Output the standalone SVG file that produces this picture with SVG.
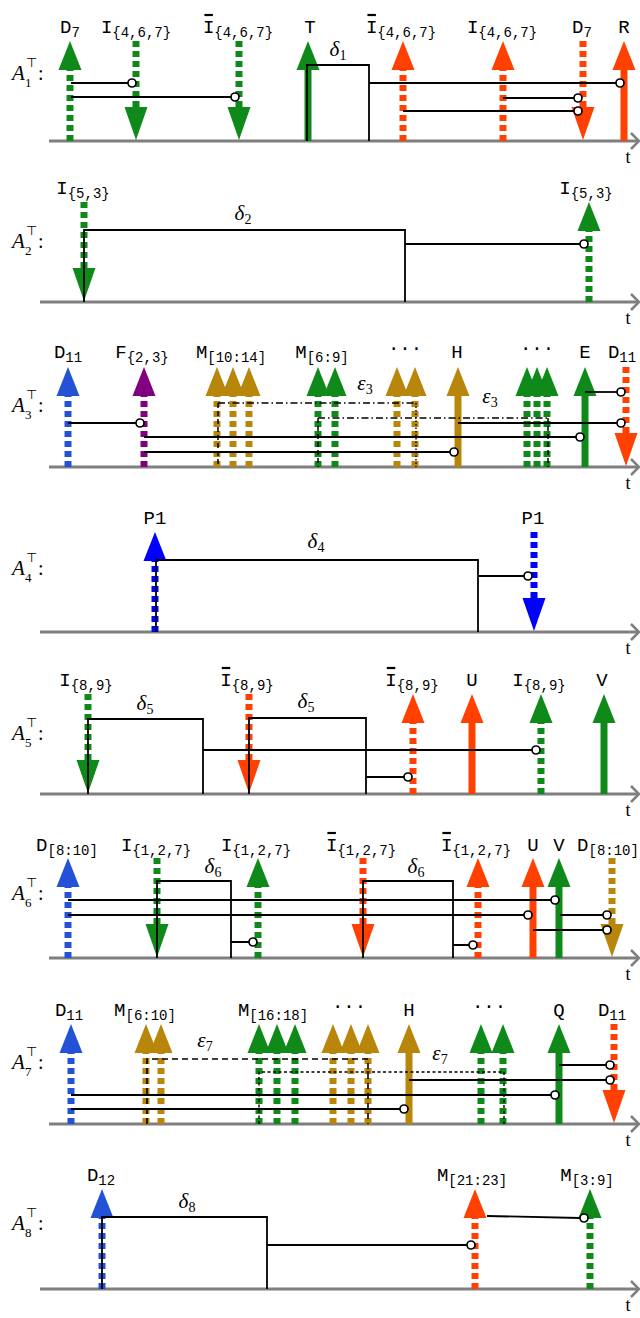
<svg xmlns="http://www.w3.org/2000/svg" width="640" height="1318" viewBox="0 0 640 1318">
<style>
.ax{stroke:#7f7f7f;stroke-width:3;fill:none}
.ah{stroke:#7f7f7f;stroke-width:2.5;fill:none}
.c{stroke:#000;stroke-width:1.8;fill:none}
.o{fill:#fff;stroke:#000;stroke-width:1.7}
.dd{stroke:#000;stroke-width:1.4;fill:none;stroke-dasharray:7 3 1.5 3}
.ds{stroke:#000;stroke-width:1.5;fill:none;stroke-dasharray:5 3}
.dt{stroke:#000;stroke-width:1.4;fill:none;stroke-dasharray:1.5 2}
.d7{stroke:#000;stroke-width:1.6;fill:none;stroke-dasharray:6 4}
.d7b{stroke:#000;stroke-width:1.4;fill:none;stroke-dasharray:3 2.5}
.lb{font-family:"Liberation Mono","DejaVu Sans Mono",monospace;font-size:19px;text-anchor:middle;fill:#000}
.sb{font-size:14px}
.gk{font-family:"Liberation Serif","DejaVu Serif",serif;font-style:italic;font-size:21px;text-anchor:middle}
.gs{font-style:normal;font-size:14px}
.ai{font-family:"Liberation Serif",serif;font-style:italic;font-size:21px}
.an{font-family:"Liberation Serif","DejaVu Sans",serif;font-size:13px}
.ac{font-family:"Liberation Serif",serif;font-size:20px}
.t{font-family:"Liberation Serif",serif;font-size:18px;text-anchor:middle}
.ob{stroke:#000;stroke-width:2.2}
.g{color:#0f8a1a}.r{color:#ff4000}.b{color:#2352d6}.B{color:#0000ff}.p{color:#800080}.y{color:#b8860b}
</style>
<defs>
<g id="uD"><path d="M0 0V-71" stroke="currentColor" stroke-width="7" stroke-dasharray="6 4"/><path d="M0 -100L11.5 -71H-11.5Z" fill="currentColor"/></g>
<g id="uS"><path d="M0 0V-72" stroke="currentColor" stroke-width="7"/><path d="M0 -100L11.5 -71H-11.5Z" fill="currentColor"/></g>
<g id="dD"><path d="M0 -100V-34" stroke="currentColor" stroke-width="7" stroke-dasharray="6 4"/><path d="M0 -1L11.5 -34H-11.5Z" fill="currentColor"/></g>
</defs>
<rect width="640" height="1318" fill="#fff"/>

<!-- Panel 1 -->
<g id="panel1">
<path class="ax" d="M49 141H638"/><path class="ah" d="M631 133L639 141L631 149"/>
<text class="t" x="628" y="163">t</text>
<g id="A1"><text class="ai" x="12" y="80">A</text><text class="an" x="25" y="87">1</text><text class="an" x="26" y="67">⊤</text><text class="ac" x="38" y="80">:</text></g>
<g id="p1-D7a"><use href="#uD" x="70" y="141" class="g"/><text class="lb" x="70" y="33">D<tspan class="sb" dy="4">7</tspan></text></g>
<g id="p1-I1"><use href="#dD" x="136" y="141" class="g"/><text class="lb" x="136" y="33">I<tspan class="sb" dy="4">{4,6,7}</tspan></text></g>
<g id="p1-Ib1"><use href="#dD" x="239" y="141" class="g"/><text class="lb" x="238" y="33">I<tspan class="sb" dy="4">{4,6,7}</tspan></text><path class="ob" d="M204.4 15H212.9"/></g>
<g id="p1-T"><use href="#uS" x="308" y="141" class="g"/><text class="lb" x="310" y="33">T</text></g>
<g id="p1-Ib2"><use href="#uD" x="403" y="141" class="r"/><text class="lb" x="401" y="33">I<tspan class="sb" dy="4">{4,6,7}</tspan></text><path class="ob" d="M367.4 15H375.9"/></g>
<g id="p1-I2"><use href="#uD" x="503" y="141" class="r"/><text class="lb" x="502" y="33">I<tspan class="sb" dy="4">{4,6,7}</tspan></text></g>
<g id="p1-D7b"><use href="#dD" x="583" y="141" class="r"/><text class="lb" x="582" y="33">D<tspan class="sb" dy="4">7</tspan></text></g>
<g id="p1-R"><use href="#uS" x="624" y="141" class="r"/><text class="lb" x="624" y="33">R</text></g>
<g id="p1-connectors">
<path class="c" d="M71 83H128"/><circle class="o" cx="132" cy="83" r="4"/>
<path class="c" d="M71 97H231"/><circle class="o" cx="235" cy="97" r="4"/>
<path class="c" d="M307 141V65H369V141M369 83H616"/><circle class="o" cx="620" cy="83" r="4"/>
<path class="c" d="M503 98H574"/><circle class="o" cx="578" cy="98" r="4"/>
<path class="c" d="M403 111H574"/><circle class="o" cx="578" cy="111" r="4"/>
<text class="gk" x="338" y="56">δ<tspan class="gs" dy="4">1</tspan></text>
</g>
</g>

<!-- Panel 2 -->
<g id="panel2">
<path class="ax" d="M40 302H638"/><path class="ah" d="M631 294L639 302L631 310"/>
<text class="t" x="628" y="324">t</text>
<g id="A2"><text class="ai" x="12" y="248">A</text><text class="an" x="25" y="255">2</text><text class="an" x="26" y="235">⊤</text><text class="ac" x="38" y="248">:</text></g>
<g id="p2-I1"><use href="#dD" x="84" y="302" class="g"/><text class="lb" x="83" y="194">I<tspan class="sb" dy="4">{5,3}</tspan></text></g>
<g id="p2-I2"><use href="#uD" x="589" y="302" class="g"/><text class="lb" x="586" y="194">I<tspan class="sb" dy="4">{5,3}</tspan></text></g>
<g id="p2-connectors">
<path class="c" d="M84 302V230H405V302M405 244H580"/><circle class="o" cx="584" cy="244" r="4"/>
<text class="gk" x="243" y="220">δ<tspan class="gs" dy="4">2</tspan></text>
</g>
</g>

<!-- Panel 3 -->
<g id="panel3">
<path class="ax" d="M49 467H638"/><path class="ah" d="M631 459L639 467L631 475"/>
<text class="t" x="628" y="489">t</text>
<g id="A3"><text class="ai" x="12" y="412">A</text><text class="an" x="25" y="419">3</text><text class="an" x="26" y="399">⊤</text><text class="ac" x="38" y="412">:</text></g>
<g id="p3-D11a"><use href="#uD" x="68" y="467" class="b"/><text class="lb" x="68" y="358">D<tspan class="sb" dy="4">11</tspan></text></g>
<g id="p3-F"><use href="#uD" x="144" y="467" class="p"/><text class="lb" x="142" y="358">F<tspan class="sb" dy="4">{2,3}</tspan></text></g>
<g id="p3-M1014"><use href="#uD" x="217" y="467" class="y"/><use href="#uD" x="233" y="467" class="y"/><use href="#uD" x="249" y="467" class="y"/><text class="lb" x="231" y="358">M<tspan class="sb" dy="4">[10:14]</tspan></text></g>
<g id="p3-M69"><use href="#uD" x="318" y="467" class="g"/><use href="#uD" x="335" y="467" class="g"/><text class="lb" x="322" y="358">M<tspan class="sb" dy="4">[6:9]</tspan></text></g>
<g id="p3-dots1"><use href="#uD" x="397" y="467" class="y"/><use href="#uD" x="415" y="467" class="y"/><text class="lb" x="405" y="354">···</text></g>
<g id="p3-H"><use href="#uS" x="458" y="467" class="y"/><text class="lb" x="457" y="358">H</text></g>
<g id="p3-dots2"><use href="#uD" x="527" y="467" class="g"/><use href="#uD" x="537" y="467" class="g"/><use href="#uD" x="547" y="467" class="g"/><text class="lb" x="537" y="354">···</text></g>
<g id="p3-E"><use href="#uS" x="585" y="467" class="g"/><text class="lb" x="585" y="358">E</text></g>
<g id="p3-D11b"><use href="#dD" x="626" y="467" class="r"/><text class="lb" x="622" y="358">D<tspan class="sb" dy="4">11</tspan></text></g>
<g id="p3-connectors">
<path class="dd" d="M218 403H416"/><path class="ds" d="M218 403V467"/><path class="dt" d="M416 403V467"/>
<path class="dd" d="M318 418H548"/><path class="ds" d="M318 418V467"/><path class="ds" d="M548 418V467"/>
<path class="c" d="M68 423H136"/><circle class="o" cx="140" cy="423" r="4"/>
<path class="c" d="M144 437H576"/><circle class="o" cx="580" cy="437" r="4"/>
<path class="c" d="M144 452H450"/><circle class="o" cx="454" cy="452" r="4"/>
<path class="c" d="M585 392H617"/><circle class="o" cx="621" cy="392" r="4"/>
<path class="c" d="M458 423H617"/><circle class="o" cx="621" cy="423" r="4"/>
<text class="gk" x="365" y="390">ε<tspan class="gs" dy="4">3</tspan></text>
<text class="gk" x="490" y="403">ε<tspan class="gs" dy="4">3</tspan></text>
</g>
</g>

<!-- Panel 4 -->
<g id="panel4">
<path class="ax" d="M40 632H638"/><path class="ah" d="M631 624L639 632L631 640"/>
<text class="t" x="628" y="654">t</text>
<g id="A4"><text class="ai" x="12" y="575">A</text><text class="an" x="25" y="582">4</text><text class="an" x="26" y="562">⊤</text><text class="ac" x="38" y="575">:</text></g>
<g id="p4-P1a"><use href="#uD" x="155" y="632" class="B"/><text class="lb" x="155" y="524">P1</text></g>
<g id="p4-P1b"><use href="#dD" x="534" y="632" class="B"/><text class="lb" x="533" y="524">P1</text></g>
<g id="p4-connectors">
<path class="c" d="M156 632V560H478V632M478 576H524"/><circle class="o" cx="528" cy="576" r="4"/>
<text class="gk" x="316" y="548">δ<tspan class="gs" dy="4">4</tspan></text>
</g>
</g>

<!-- Panel 5 -->
<g id="panel5">
<path class="ax" d="M40 794H638"/><path class="ah" d="M631 786L639 794L631 802"/>
<text class="t" x="628" y="816">t</text>
<g id="A5"><text class="ai" x="12" y="740">A</text><text class="an" x="25" y="747">5</text><text class="an" x="26" y="727">⊤</text><text class="ac" x="38" y="740">:</text></g>
<g id="p5-I1"><use href="#dD" x="88" y="794" class="g"/><text class="lb" x="86" y="686">I<tspan class="sb" dy="4">{8,9}</tspan></text></g>
<g id="p5-Ib1"><use href="#dD" x="249" y="794" class="r"/><text class="lb" x="247" y="686">I<tspan class="sb" dy="4">{8,9}</tspan></text><path class="ob" d="M221.8 668H230.3"/></g>
<g id="p5-Ib2"><use href="#uD" x="413" y="794" class="r"/><text class="lb" x="412" y="686">I<tspan class="sb" dy="4">{8,9}</tspan></text><path class="ob" d="M386.8 668H395.3"/></g>
<g id="p5-U"><use href="#uS" x="472" y="794" class="r"/><text class="lb" x="472" y="686">U</text></g>
<g id="p5-I2"><use href="#uD" x="541" y="794" class="g"/><text class="lb" x="539" y="686">I<tspan class="sb" dy="4">{8,9}</tspan></text></g>
<g id="p5-V"><use href="#uS" x="604" y="794" class="g"/><text class="lb" x="602" y="686">V</text></g>
<g id="p5-connectors">
<path class="c" d="M88 794V719H203V794M203 750H532"/><circle class="o" cx="536" cy="750" r="4"/>
<path class="c" d="M249 794V718H366V794M366 777H404"/><circle class="o" cx="408" cy="777" r="4"/>
<text class="gk" x="145" y="710">δ<tspan class="gs" dy="4">5</tspan></text>
<text class="gk" x="306" y="708">δ<tspan class="gs" dy="4">5</tspan></text>
</g>
</g>

<!-- Panel 6 -->
<g id="panel6">
<path class="ax" d="M49 958H638"/><path class="ah" d="M631 950L639 958L631 966"/>
<text class="t" x="628" y="980">t</text>
<g id="A6"><text class="ai" x="12" y="900">A</text><text class="an" x="25" y="907">6</text><text class="an" x="26" y="887">⊤</text><text class="ac" x="38" y="900">:</text></g>
<g id="p6-D1"><use href="#uD" x="68" y="958" class="b"/><text class="lb" x="67" y="851">D<tspan class="sb" dy="4">[8:10]</tspan></text></g>
<g id="p6-I1"><use href="#dD" x="157" y="958" class="g"/><text class="lb" x="156" y="851">I<tspan class="sb" dy="4">{1,2,7}</tspan></text></g>
<g id="p6-I2"><use href="#uD" x="258" y="958" class="g"/><text class="lb" x="256" y="851">I<tspan class="sb" dy="4">{1,2,7}</tspan></text></g>
<g id="p6-Ib1"><use href="#dD" x="363" y="958" class="r"/><text class="lb" x="361" y="851">I<tspan class="sb" dy="4">{1,2,7}</tspan></text><path class="ob" d="M327.4 833H335.9"/></g>
<g id="p6-Ib2"><use href="#uD" x="478" y="958" class="r"/><text class="lb" x="476" y="851">I<tspan class="sb" dy="4">{1,2,7}</tspan></text><path class="ob" d="M442.4 833H450.9"/></g>
<g id="p6-U"><use href="#uS" x="533" y="958" class="r"/><text class="lb" x="533" y="851">U</text></g>
<g id="p6-V"><use href="#uS" x="559" y="958" class="g"/><text class="lb" x="559" y="851">V</text></g>
<g id="p6-D2"><use href="#dD" x="612" y="958" class="y"/><text class="lb" x="608" y="851">D<tspan class="sb" dy="4">[8:10]</tspan></text></g>
<g id="p6-connectors">
<path class="c" d="M157 958V881H231V958M231 942H249"/><circle class="o" cx="253" cy="942" r="4"/>
<path class="c" d="M363 958V881H453V958M453 945H469"/><circle class="o" cx="473" cy="945" r="4"/>
<path class="c" d="M68 900H551"/><circle class="o" cx="555" cy="900" r="4"/>
<path class="c" d="M68 915H524"/><circle class="o" cx="528" cy="915" r="4"/>
<path class="c" d="M560 915H603"/><circle class="o" cx="607" cy="915" r="4"/>
<path class="c" d="M533 930H603"/><circle class="o" cx="607" cy="930" r="4"/>
<text class="gk" x="213" y="873">δ<tspan class="gs" dy="4">6</tspan></text>
<text class="gk" x="416" y="873">δ<tspan class="gs" dy="4">6</tspan></text>
</g>
</g>

<!-- Panel 7 -->
<g id="panel7">
<path class="ax" d="M49 1124H638"/><path class="ah" d="M631 1116L639 1124L631 1132"/>
<text class="t" x="628" y="1146">t</text>
<g id="A7"><text class="ai" x="12" y="1069">A</text><text class="an" x="25" y="1076">7</text><text class="an" x="26" y="1056">⊤</text><text class="ac" x="38" y="1069">:</text></g>
<g id="p7-D11a"><use href="#uD" x="71" y="1124" class="b"/><text class="lb" x="69" y="1016">D<tspan class="sb" dy="4">11</tspan></text></g>
<g id="p7-M610"><use href="#uD" x="146" y="1124" class="y"/><use href="#uD" x="161" y="1124" class="y"/><text class="lb" x="145" y="1016">M<tspan class="sb" dy="4">[6:10]</tspan></text></g>
<g id="p7-M1618"><use href="#uD" x="259" y="1124" class="g"/><use href="#uD" x="277" y="1124" class="g"/><use href="#uD" x="295" y="1124" class="g"/><text class="lb" x="273" y="1016">M<tspan class="sb" dy="4">[16:18]</tspan></text></g>
<g id="p7-dots1"><use href="#uD" x="333" y="1124" class="y"/><use href="#uD" x="351" y="1124" class="y"/><use href="#uD" x="368" y="1124" class="y"/><text class="lb" x="349" y="1012">···</text></g>
<g id="p7-H"><use href="#uS" x="409" y="1124" class="y"/><text class="lb" x="409" y="1016">H</text></g>
<g id="p7-dots2"><use href="#uD" x="481" y="1124" class="g"/><use href="#uD" x="503" y="1124" class="g"/><text class="lb" x="489" y="1012">···</text></g>
<g id="p7-Q"><use href="#uS" x="559" y="1124" class="g"/><text class="lb" x="559" y="1016">Q</text></g>
<g id="p7-D11b"><use href="#dD" x="614" y="1124" class="r"/><text class="lb" x="612" y="1016">D<tspan class="sb" dy="4">11</tspan></text></g>
<g id="p7-connectors">
<path class="d7" d="M147 1124V1059H368V1124"/>
<path class="d7b" d="M259 1124V1072H504V1124"/>
<path class="c" d="M559 1065H606"/><circle class="o" cx="610" cy="1065" r="4"/>
<path class="c" d="M409 1080H606"/><circle class="o" cx="610" cy="1080" r="4"/>
<path class="c" d="M71 1095H551"/><circle class="o" cx="555" cy="1095" r="4"/>
<path class="c" d="M71 1109H400"/><circle class="o" cx="404" cy="1109" r="4"/>
<text class="gk" x="205" y="1047">ε<tspan class="gs" dy="4">7</tspan></text>
<text class="gk" x="440" y="1060">ε<tspan class="gs" dy="4">7</tspan></text>
</g>
</g>

<!-- Panel 8 -->
<g id="panel8">
<path class="ax" d="M40 1289H638"/><path class="ah" d="M631 1281L639 1289L631 1297"/>
<text class="t" x="628" y="1311">t</text>
<g id="A8"><text class="ai" x="12" y="1230">A</text><text class="an" x="25" y="1237">8</text><text class="an" x="26" y="1217">⊤</text><text class="ac" x="38" y="1230">:</text></g>
<g id="p8-D12"><use href="#uD" x="102" y="1289" class="b"/><text class="lb" x="101" y="1181">D<tspan class="sb" dy="4">12</tspan></text></g>
<g id="p8-M2123"><use href="#uD" x="475" y="1289" class="r"/><text class="lb" x="472" y="1181">M<tspan class="sb" dy="4">[21:23]</tspan></text></g>
<g id="p8-M39"><use href="#uD" x="590" y="1289" class="g"/><text class="lb" x="587" y="1181">M<tspan class="sb" dy="4">[3:9]</tspan></text></g>
<g id="p8-connectors">
<path class="c" d="M102 1289V1217H267V1289M267 1245H467"/><circle class="o" cx="471" cy="1245" r="4"/>
<path class="c" d="M487 1216L580 1218"/><circle class="o" cx="584" cy="1218" r="4"/>
<text class="gk" x="187" y="1208">δ<tspan class="gs" dy="4">8</tspan></text>
</g>
</g>
</svg>
